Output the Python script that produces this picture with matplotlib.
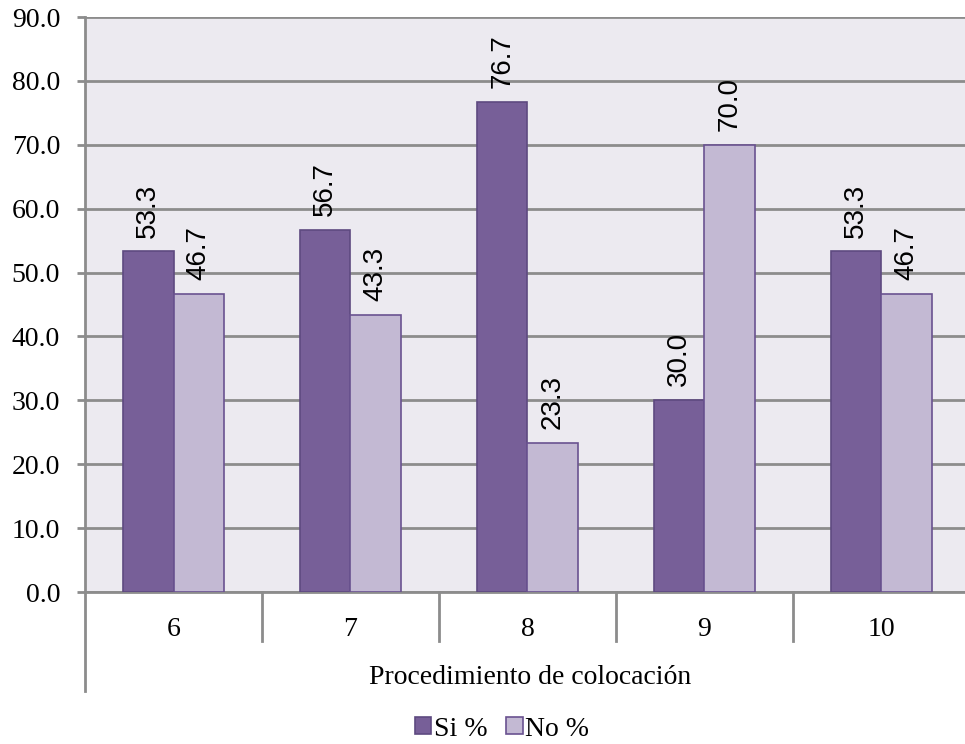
import matplotlib
matplotlib.use("Agg")
import matplotlib.pyplot as plt
import matplotlib.transforms as mtransforms
from matplotlib.lines import Line2D
from matplotlib.patches import Patch
import numpy as np

categories = ["6", "7", "8", "9", "10"]
si_pct = [53.3, 56.7, 76.7, 30.0, 53.3]
no_pct = [46.7, 43.3, 23.3, 70.0, 46.7]
y_ticks = [0, 10, 20, 30, 40, 50, 60, 70, 80, 90]
x_title = "Procedimiento de colocación"
series_names = ["Si %", "No %"]

serif = ["Liberation Serif", "DejaVu Serif"]
sans = ["Liberation Sans", "DejaVu Sans"]

si_color = "#775F98"
si_edge = "#5E4A80"
no_color = "#C3B9D3"
no_edge = "#6A5290"
bg_color = "#ECEAF0"
grid_color = "#8C8C8C"

fig = plt.figure(figsize=(9.65, 7.44), dpi=100)
ax = fig.add_axes([0.0881, 0.2043, 0.917, 0.7728])
ax.set_facecolor(bg_color)

x = np.arange(len(categories))
w = 0.285
b1 = ax.bar(x - w / 2, si_pct, w, color=si_color, edgecolor=si_edge, linewidth=1.2, zorder=3)
b2 = ax.bar(x + w / 2, no_pct, w, color=no_color, edgecolor=no_edge, linewidth=1.2, zorder=3)

for bars, vals in ((b1, si_pct), (b2, no_pct)):
    for rect, v in zip(bars, vals):
        ax.annotate(f"{v:.1f}", (rect.get_x() + rect.get_width() / 2, v),
                    xytext=(0, 10), textcoords="offset points",
                    rotation=90, ha="center", va="bottom",
                    fontsize=20, family=sans, color="black")

ax.set_xlim(-0.5, len(categories) - 0.5)
ax.set_ylim(0, 90)
ax.set_yticks(y_ticks)
ax.set_yticklabels([f"{t:.1f}" for t in y_ticks], family=serif, fontsize=20)
ax.yaxis.grid(True, color=grid_color, linewidth=2, zorder=0)
ax.set_axisbelow(True)

ax.set_xticks(x)
ax.set_xticklabels(categories, family=serif, fontsize=20)
ax.tick_params(axis="x", length=0, pad=18)
ax.tick_params(axis="y", length=6, width=2, color=grid_color, pad=12)

for s in ("top", "right"):
    ax.spines[s].set_visible(False)
ax.spines["left"].set_color(grid_color)
ax.spines["left"].set_linewidth(2)
ax.spines["bottom"].set_color(grid_color)
ax.spines["bottom"].set_linewidth(2)

# category separators and extended left axis below the plot
trans = mtransforms.blended_transform_factory(ax.transData, ax.transAxes)
for xs in x[:-1] + 0.5:
    ax.add_line(Line2D([xs, xs], [0, -0.085], transform=trans, color=grid_color,
                       linewidth=2, clip_on=False))
ax.add_line(Line2D([-0.5, -0.5], [0, -0.172], transform=trans, color=grid_color,
                   linewidth=2, clip_on=False))

fig.text(530 / 965, 1 - 677 / 744, x_title, ha="center", va="center",
         family=serif, fontsize=20)

handles = [Patch(facecolor=si_color, edgecolor=si_edge, linewidth=1.2),
           Patch(facecolor=no_color, edgecolor=no_edge, linewidth=1.2)]
fig.legend(handles, series_names, loc="center", bbox_to_anchor=(502 / 965, 1 - 729 / 744),
           ncol=2, frameon=False, prop={"family": serif, "size": 20},
           handlelength=0.6, handleheight=0.55, handletextpad=0.1, columnspacing=0.65,
           borderpad=0, borderaxespad=0)

fig.savefig("out.png", dpi=100)
